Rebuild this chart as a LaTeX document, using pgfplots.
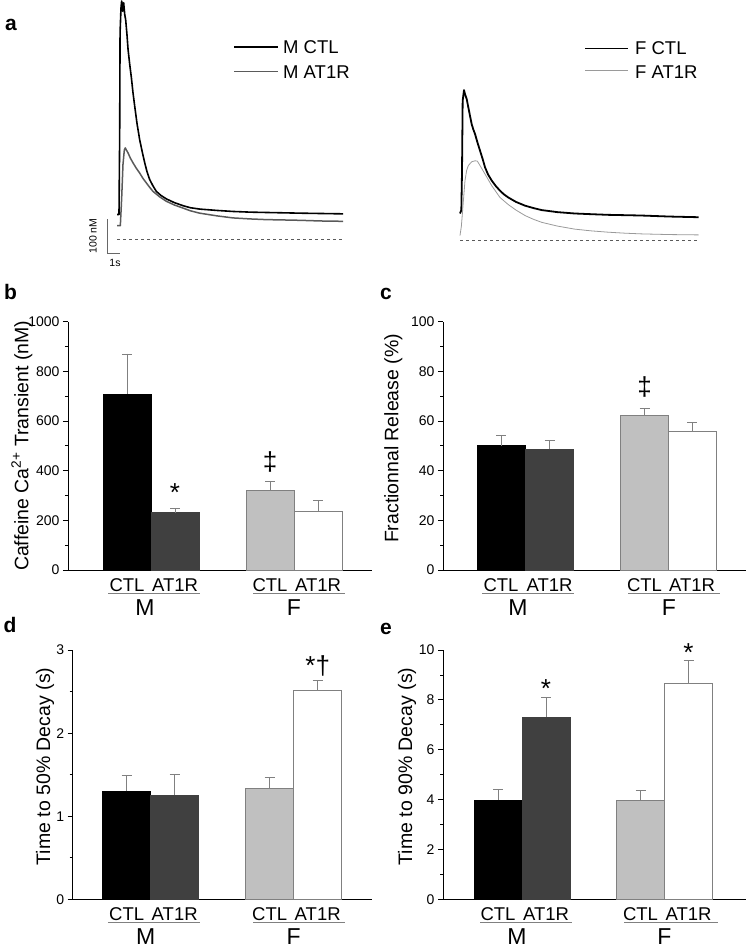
\documentclass[border=0pt]{standalone}
\usepackage{fontspec}
\setmainfont{Liberation Sans}
\usepackage{pgfplots}
\pgfplotsset{compat=1.18}

\definecolor{mat}{HTML}{404040}
\definecolor{fctl}{HTML}{C0C0C0}
\definecolor{edge}{HTML}{808080}
\definecolor{trgray}{HTML}{5A5A5A}
\definecolor{trlight}{HTML}{9A9A9A}

\newcommand\fcat{\fontsize{18.5}{19}\selectfont}
\newcommand\fgrp{\fontsize{23}{24}\selectfont}
\newcommand\fstar{\fontsize{26}{27}\selectfont}
\newcommand\fleg{\fontsize{18.5}{19}\selectfont}
\newcommand\fpan{\fontsize{21}{22}\selectfont\bfseries}
\newcommand\fsmall{\fontsize{10.5}{11}\selectfont}

\pgfplotsset{
 barax/.style={scale only axis, axis lines*=left, clip=false, xmin=0, ymin=0, xtick=\empty,
   axis line style={line width=0.9pt, black}, tick align=outside,
   major tick length=5pt, minor tick length=3pt,
   tick style={black, line width=0.8pt}, minor y tick num=1,
   /pgf/number format/assume math mode=true,
   /pgf/number format/1000 sep={},
   tick label style={font=\fontsize{14}{15}\selectfont},
   label style={font=\fontsize{19.5}{21}\selectfont},
 },
 trace/.style={scale only axis, hide axis, clip=false, xmin=0, ymin=0, ymax=700},
 berr/.style={ybar, bar width=48pt, bar shift=0pt, line width=0.8pt,
   error bars/y dir=plus, error bars/y explicit,
   error bars/error bar style={draw=edge, line width=0.8pt},
   error bars/error mark options={rotate=90, mark size=5pt, draw=edge, line width=0.8pt}},
}

\begin{document}
\begin{tikzpicture}
\path[use as bounding box] (0pt,0pt) rectangle (750pt,-948pt);

% ---------------- panel a, left traces ----------------
\begin{axis}[trace, at={(117pt,-239pt)}, anchor=south west, width=226.7pt, height=238pt, xmax=17]
\addplot[black, line width=1.6pt, line join=round] coordinates {
(0,72) (0.15,72) (0.2,300) (0.23,606) (0.3,680) (0.35,700) (0.42,670) (0.5,695) (0.58,660)
(0.65,645) (0.75,600) (0.83,557) (0.95,515) (1.08,474) (1.2,430) (1.33,390) (1.5,340)
(1.7,292) (1.9,255) (2.08,224) (2.25,198) (2.45,175) (2.7,156) (2.95,140) (3.3,128)
(3.7,118) (4.3,107) (4.95,98) (5.5,92) (6.2,88) (7.5,84) (8.7,81) (10,79) (11.2,78)
(12.5,77) (13.7,76) (15.3,75) (16.95,74)};
\addplot[trgray, line width=1.5pt, line join=round] coordinates {
(0,39) (0.25,39) (0.35,120) (0.45,220) (0.55,262) (0.62,268) (0.7,262) (0.83,253)
(1.0,238) (1.2,224) (1.45,208) (1.7,194) (1.95,178) (2.2,165) (2.45,152) (2.7,140)
(3.2,124) (3.7,111) (4.3,100) (4.95,91) (5.5,83) (6.2,76) (7.5,68) (8.7,62) (10,59)
(11.2,57) (12.5,56) (13.7,55) (15.3,53) (16.95,52)};
\addplot[trgray, line width=0.6pt, dash pattern=on 3pt off 3pt] coordinates {(0,0) (16.95,0)};
% scale bar: 100 nM, 1 s
\addplot[edge!80!black, line width=0.8pt] coordinates {(-0.75,58) (-0.75,-42) (0.25,-42)};
\end{axis}
\node[rotate=90, font=\fsmall, inner sep=0] at (93pt,-236pt) {100 nM};
\node[font=\fsmall, inner sep=0] at (115pt,-262.5pt) {1s};

% ---------------- panel a, right traces ----------------
\begin{axis}[trace, at={(460pt,-240pt)}, anchor=south west, width=238.7pt, height=238pt, xmax=17.9]
\addplot[black, line width=1.8pt, line join=round] coordinates {
(0,78) (0.1,88) (0.15,200) (0.2,410) (0.3,441) (0.375,429) (0.5,415) (0.625,390)
(0.75,365) (0.875,341) (1.0,325) (1.125,312) (1.3,288) (1.5,263) (1.7,238) (1.875,214)
(2.1,193) (2.375,175) (2.7,158) (3.0,145) (3.3,134) (3.625,125) (4.2,112) (4.875,101)
(5.5,94) (6.125,88) (7.3,82) (8.6,78) (9.8,76) (11.1,74) (12.4,73) (13.6,72) (15.7,69) (17.9,67)};
\addplot[trlight, line width=0.8pt, line join=round] coordinates {
(0,13) (0.1,40) (0.175,76) (0.375,175) (0.5,205) (0.625,219) (0.875,230) (1.125,233)
(1.3,232) (1.5,219) (1.875,194) (2.375,160) (3.0,125) (3.625,104) (4.2,88) (4.875,72)
(5.5,61) (6.125,52) (7.3,41) (8.6,32) (9.8,27) (11.1,23) (12.4,20) (13.6,18) (15.7,16) (17.9,15)};
\addplot[trgray, line width=0.6pt, dash pattern=on 3pt off 3pt] coordinates {(0,0) (17.9,0)};
\end{axis}

% legends of panel a
\draw[black, line width=1.3pt] (234pt,-47pt) -- (278pt,-47pt);
\node[anchor=base west, font=\fleg, inner sep=0] at (283pt,-53.3pt) {M CTL};
\draw[trgray, line width=1.1pt] (234pt,-71.7pt) -- (278pt,-71.7pt);
\node[anchor=base west, font=\fleg, inner sep=0] at (283pt,-78.3pt) {M AT1R};
\draw[black, line width=1.3pt] (585pt,-48.3pt) -- (628pt,-48.3pt);
\node[anchor=base west, font=\fleg, inner sep=0] at (635pt,-54.3pt) {F CTL};
\draw[trlight, line width=1.1pt] (585pt,-70.7pt) -- (628pt,-70.7pt);
\node[anchor=base west, font=\fleg, inner sep=0] at (635pt,-78.3pt) {F AT1R};

% ---------------- panel b ----------------
\begin{axis}[barax, at={(68pt,-570pt)}, anchor=south west, width=304pt, height=248.3pt,
  xmax=304, ymax=1000, ytick={0,200,...,1000},
  ylabel={Caffeine Ca\textsuperscript{2+} Transient (nM)},
  ylabel style={at={(axis description cs:-0.1306,0.5)}, anchor=base}]
\addplot[berr, fill=black, draw=black] coordinates {(59,709) +- (0,161)};
\addplot[berr, fill=mat, draw=mat] coordinates {(107,231) +- (0,17)};
\addplot[berr, fill=fctl, draw=edge] coordinates {(202,321) +- (0,35)};
\addplot[berr, fill=white, draw=edge] coordinates {(250,235) +- (0,47)};
\node[font=\fstar, anchor=base, yshift=-15pt] at (axis cs:107,335) {*};
\node[font=\fstar] at (axis cs:202,436) {‡};
\node[font=\fcat, anchor=base, yshift=-21pt] at (axis cs:59,0) {CTL};
\node[font=\fcat, anchor=base, yshift=-21pt] at (axis cs:107,0) {AT1R};
\node[font=\fcat, anchor=base, yshift=-21pt] at (axis cs:202,0) {CTL};
\node[font=\fcat, anchor=base, yshift=-21pt] at (axis cs:250,0) {AT1R};
\draw[edge, line width=0.8pt] ([yshift=-23.5pt]axis cs:40,0) -- ([yshift=-23.5pt]axis cs:132,0);
\draw[edge, line width=0.8pt] ([yshift=-23.5pt]axis cs:185,0) -- ([yshift=-23.5pt]axis cs:277,0);
\node[font=\fgrp, anchor=base, yshift=-45pt] at (axis cs:77,0) {M};
\node[font=\fgrp, anchor=base, yshift=-45pt] at (axis cs:226,0) {F};
\end{axis}

% ---------------- panel c ----------------
\begin{axis}[barax, at={(443pt,-570pt)}, anchor=south west, width=303pt, height=248.3pt,
  xmax=303, ymax=100, ytick={0,20,...,100},
  ylabel={Fractionnal Release (\%)},
  ylabel style={at={(axis description cs:-0.147,0.53)}, anchor=base}]
\addplot[berr, fill=black, draw=black] coordinates {(58,50.1) +- (0,4.1)};
\addplot[berr, fill=mat, draw=mat] coordinates {(106.5,48.7) +- (0,3.4)};
\addplot[berr, fill=fctl, draw=edge] coordinates {(201.5,62.1) +- (0,3.0)};
\addplot[berr, fill=white, draw=edge] coordinates {(249,55.8) +- (0,3.7)};
\node[font=\fstar] at (axis cs:201.5,73.8) {‡};
\node[font=\fcat, anchor=base, yshift=-21pt] at (axis cs:58,0) {CTL};
\node[font=\fcat, anchor=base, yshift=-21pt] at (axis cs:106.5,0) {AT1R};
\node[font=\fcat, anchor=base, yshift=-21pt] at (axis cs:201.5,0) {CTL};
\node[font=\fcat, anchor=base, yshift=-21pt] at (axis cs:249,0) {AT1R};
\draw[edge, line width=0.8pt] ([yshift=-23.5pt]axis cs:39,0) -- ([yshift=-23.5pt]axis cs:131,0);
\draw[edge, line width=0.8pt] ([yshift=-23.5pt]axis cs:185,0) -- ([yshift=-23.5pt]axis cs:277,0);
\node[font=\fgrp, anchor=base, yshift=-45pt] at (axis cs:75,0) {M};
\node[font=\fgrp, anchor=base, yshift=-45pt] at (axis cs:226,0) {F};
\end{axis}

% ---------------- panel d ----------------
\begin{axis}[barax, at={(72.7pt,-899.3pt)}, anchor=south west, width=299.3pt, height=249.3pt,
  xmax=299.3, ymax=3, ytick={0,1,2,3},
  ylabel={Time to 50\% Decay (s)},
  ylabel style={at={(axis description cs:-0.0758,0.533)}, anchor=base}]
\addplot[berr, fill=black, draw=black] coordinates {(54,1.30) +- (0,0.19)};
\addplot[berr, fill=mat, draw=mat] coordinates {(102,1.255) +- (0,0.245)};
\addplot[berr, fill=fctl, draw=edge] coordinates {(197,1.335) +- (0,0.135)};
\addplot[berr, fill=white, draw=edge] coordinates {(245,2.515) +- (0,0.125)};
\node[font=\fstar, anchor=base, yshift=-12pt] at (axis cs:245,2.855) {*†};
\node[font=\fcat, anchor=base, yshift=-21pt] at (axis cs:54,0) {CTL};
\node[font=\fcat, anchor=base, yshift=-21pt] at (axis cs:102,0) {AT1R};
\node[font=\fcat, anchor=base, yshift=-21pt] at (axis cs:197,0) {CTL};
\node[font=\fcat, anchor=base, yshift=-21pt] at (axis cs:245,0) {AT1R};
\draw[edge, line width=0.8pt] ([yshift=-23.5pt]axis cs:35.3,0) -- ([yshift=-23.5pt]axis cs:127.3,0);
\draw[edge, line width=0.8pt] ([yshift=-23.5pt]axis cs:180.3,0) -- ([yshift=-23.5pt]axis cs:272.3,0);
\node[font=\fgrp, anchor=base, yshift=-45pt] at (axis cs:73,0) {M};
\node[font=\fgrp, anchor=base, yshift=-45pt] at (axis cs:221,0) {F};
\end{axis}

% ---------------- panel e ----------------
\begin{axis}[barax, at={(443pt,-899.3pt)}, anchor=south west, width=303pt, height=249.3pt,
  xmax=303, ymax=10, ytick={0,2,...,10},
  ylabel={Time to 90\% Decay (s)},
  ylabel style={at={(axis description cs:-0.102,0.533)}, anchor=base}]
\addplot[berr, fill=black, draw=black] coordinates {(55,3.98) +- (0,0.41)};
\addplot[berr, fill=mat, draw=mat] coordinates {(103,7.31) +- (0,0.78)};
\addplot[berr, fill=fctl, draw=edge] coordinates {(197.5,3.98) +- (0,0.38)};
\addplot[berr, fill=white, draw=edge] coordinates {(245.5,8.66) +- (0,0.94)};
\node[font=\fstar, anchor=base, yshift=-15pt] at (axis cs:103,8.68) {*};
\node[font=\fstar, anchor=base, yshift=-15pt] at (axis cs:245.5,10.13) {*};
\node[font=\fcat, anchor=base, yshift=-21pt] at (axis cs:55,0) {CTL};
\node[font=\fcat, anchor=base, yshift=-21pt] at (axis cs:103,0) {AT1R};
\node[font=\fcat, anchor=base, yshift=-21pt] at (axis cs:197.5,0) {CTL};
\node[font=\fcat, anchor=base, yshift=-21pt] at (axis cs:245.5,0) {AT1R};
\draw[edge, line width=0.8pt] ([yshift=-23.5pt]axis cs:37,0) -- ([yshift=-23.5pt]axis cs:129,0);
\draw[edge, line width=0.8pt] ([yshift=-23.5pt]axis cs:181,0) -- ([yshift=-23.5pt]axis cs:275,0);
\node[font=\fgrp, anchor=base, yshift=-45pt] at (axis cs:74,0) {M};
\node[font=\fgrp, anchor=base, yshift=-45pt] at (axis cs:221.5,0) {F};
\end{axis}

% panel letters
\node[anchor=base west, inner sep=0, font=\fpan] at (5pt,-30pt) {a};
\node[anchor=base west, inner sep=0, font=\fpan] at (4pt,-299.3pt) {b};
\node[anchor=base west, inner sep=0, font=\fpan] at (380pt,-299.3pt) {c};
\node[anchor=base west, inner sep=0, font=\fpan] at (3.3pt,-632pt) {d};
\node[anchor=base west, inner sep=0, font=\fpan] at (380pt,-634pt) {e};
\end{tikzpicture}
\end{document}
